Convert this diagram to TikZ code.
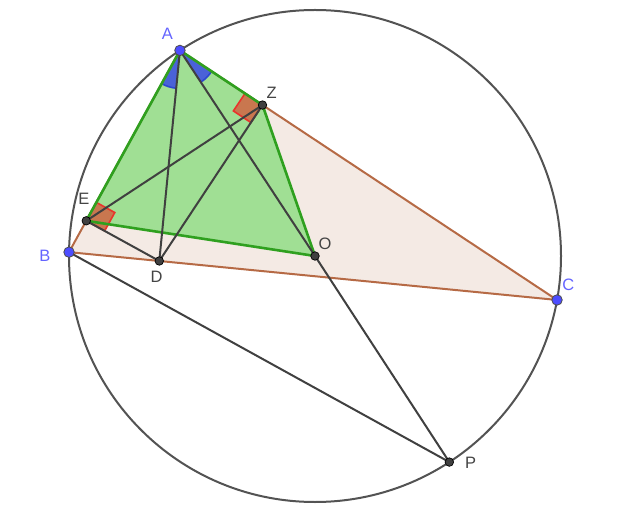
\documentclass[tikz,border=0pt]{standalone}
\usepackage{fontspec}
\setmainfont{Liberation Sans}
\usetikzlibrary{calc,angles}
\definecolor{pinkfill}{HTML}{F4EAE4}
\definecolor{brownedge}{HTML}{B66A45}
\definecolor{greenedge}{HTML}{2FA01F}
\definecolor{greenfill}{HTML}{A0DF94}
\definecolor{darkline}{HTML}{404040}
\definecolor{wedgeblue}{HTML}{4A62D8}
\definecolor{wedgeedge}{HTML}{2D47D0}
\definecolor{ptblue}{HTML}{4D4DFF}
\definecolor{lblblue}{HTML}{6464FF}
\definecolor{lblgray}{HTML}{444444}
\definecolor{rafill}{HTML}{C9774F}
\definecolor{raedge}{HTML}{E8352C}
\tikzset{
  seg/.style={draw=darkline, line width=2pt},
  bluept/.style={circle, fill=ptblue, draw=black!70, line width=0.8pt, inner sep=0pt, minimum size=10.5pt},
  darkpt/.style={circle, fill=darkline, draw=black, line width=0.7pt, inner sep=0pt, minimum size=8.5pt},
  bluelbl/.style={text=lblblue, font=\fontsize{16.5}{16.5}\selectfont, inner sep=0pt},
  graylbl/.style={text=lblgray, font=\fontsize{16.5}{16.5}\selectfont, inner sep=0pt},
  wedge/.style={draw=wedgeedge, line width=1.6pt, fill=wedgeblue, angle radius=38pt},
  ramark/.style={fill=rafill, draw=raedge, line width=1.6pt},
}
\begin{document}
\begin{tikzpicture}[x=1pt,y=1pt]
\useasboundingbox (0,0) rectangle (640,512);
\coordinate (O) at (315,256);
\coordinate (A) at ($(O)+(123.3:246)$);
\coordinate (B) at ($(O)+(179.1:246)$);
\coordinate (C) at ($(O)+(-10.3:246)$);
\coordinate (P) at ($(O)+(-56.9:246)$);
\coordinate (D) at ($(B)!(A)!(C)$);
\coordinate (E) at ($(A)!(D)!(B)$);
\coordinate (Z) at ($(A)!(D)!(C)$);
% right angle corners
\coordinate (za) at ($(Z)!21pt!(A)$);
\coordinate (zd) at ($(Z)!21pt!(D)$);
\coordinate (zz) at ($(za)+(zd)-(Z)$);
\coordinate (ea) at ($(E)!21pt!(A)$);
\coordinate (ed) at ($(E)!21pt!(D)$);
\coordinate (ee) at ($(ea)+(ed)-(E)$);
% fills
\fill[pinkfill] (A) -- (B) -- (C) -- cycle;
\fill[greenfill] (A) -- (Z) -- (O) -- (E) -- cycle;
% markers
\pic[wedge] {angle=B--A--D};
\pic[wedge] {angle=O--A--C};
\draw[ramark] (Z) -- (za) -- (zz) -- (zd) -- cycle;
\draw[ramark] (E) -- (ea) -- (ee) -- (ed) -- cycle;
% triangle edges
\draw[brownedge, line width=2pt] (A) -- (B) -- (C) -- cycle;
\draw[greenedge, line width=2.6pt] (A) -- (Z) -- (O) -- (E) -- cycle;
% circle
\draw[darkline!90, line width=2pt] (O) circle (246);
% segments
\draw[seg] (A) -- (D);
\draw[seg] (A) -- (O);
\draw[seg] (E) -- (Z);
\draw[seg] (Z) -- (D);
\draw[seg] (E) -- (D);
\draw[seg] (B) -- (P);
\draw[seg] (O) -- (P);
% points
\node[bluept] (pA) at (A) {};
\node[bluept] (pB) at (B) {};
\node[bluept] (pC) at (C) {};
\node[darkpt] (pZ) at (Z) {};
\node[darkpt] (pE) at (E) {};
\node[darkpt] (pD) at (D) {};
\node[darkpt] (pO) at (O) {};
\node[darkpt] (pP) at (P) {};
% labels
\node[bluelbl] (lA) at (167.3,478) {A};
\node[bluelbl] (lB) at (45,256) {B};
\node[bluelbl] (lC) at (568.3,227) {C};
\node[graylbl] (lZ) at (271.7,419.3) {Z};
\node[graylbl] (lE) at (84,312.7) {E};
\node[graylbl] (lD) at (156.7,234.7) {D};
\node[graylbl] (lO) at (325,268) {O};
\node[graylbl] (lP) at (470.7,48.7) {P};
\end{tikzpicture}
\end{document}
